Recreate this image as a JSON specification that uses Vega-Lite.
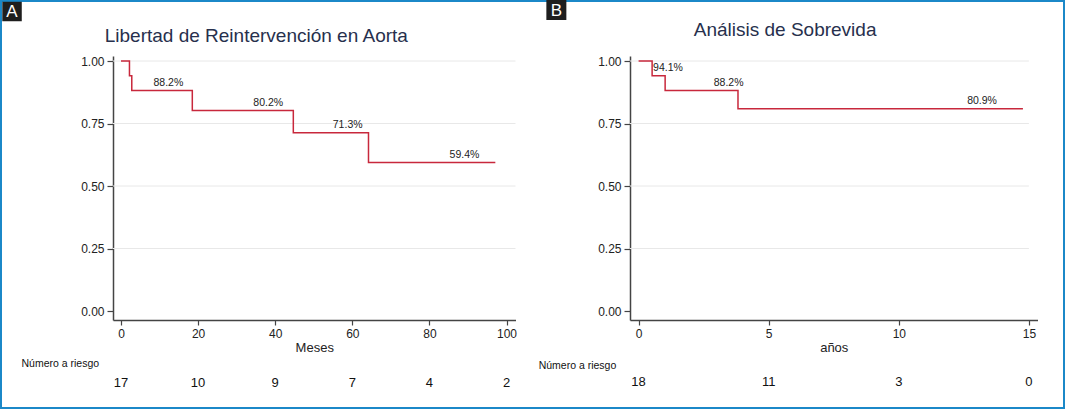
{
  "$schema": "https://vega.github.io/schema/vega-lite/v6.json",
  "width": 1065,
  "height": 409,
  "autosize": {"type": "none"},
  "padding": 0,
  "background": "white",
  "config": {
    "view": {"stroke": "#1b88c8", "strokeWidth": 4},
    "font": "Liberation Sans",
    "text": {"font": "Liberation Sans"}
  },
  "datasets": {
    "kmA": [
      {"t": 0, "s": 1.0},
      {"t": 2.2, "s": 0.941},
      {"t": 2.8, "s": 0.882},
      {"t": 18.5, "s": 0.802},
      {"t": 44.7, "s": 0.713},
      {"t": 64.2, "s": 0.594},
      {"t": 97.1, "s": 0.594}
    ],
    "kmB": [
      {"t": 0, "s": 1.0},
      {"t": 0.52, "s": 0.941},
      {"t": 1.02, "s": 0.882},
      {"t": 3.82, "s": 0.809},
      {"t": 14.77, "s": 0.809}
    ],
    "labA": [
      {"t": 12.3, "s": 0.882, "label": "88.2%"},
      {"t": 38.2, "s": 0.802, "label": "80.2%"},
      {"t": 58.8, "s": 0.713, "label": "71.3%"},
      {"t": 89.1, "s": 0.594, "label": "59.4%"}
    ],
    "labB": [
      {"t": 1.13, "s": 0.941, "label": "94.1%"},
      {"t": 3.46, "s": 0.882, "label": "88.2%"},
      {"t": 13.2, "s": 0.809, "label": "80.9%"}
    ],
    "riskA": [
      {"t": 0, "n": "17"},
      {"t": 20, "n": "10"},
      {"t": 40, "n": "9"},
      {"t": 60, "n": "7"},
      {"t": 80, "n": "4"},
      {"t": 100, "n": "2"}
    ],
    "riskB": [
      {"t": 0, "n": "18"},
      {"t": 5, "n": "11"},
      {"t": 10, "n": "3"},
      {"t": 15, "n": "0"}
    ],
    "grid": [
      {"g": 0.25},
      {"g": 0.5},
      {"g": 0.75},
      {"g": 1.0}
    ],
    "notes": [
      {"txt": "x"}
    ]
  },
  "layer": [
    {
      "layer": [
        {
          "data": {"name": "grid"},
          "mark": {"type": "rule", "color": "#e8e8e8", "strokeWidth": 1},
          "encoding": {
            "y": {
              "field": "g", "type": "quantitative",
              "scale": {"domain": [-0.036, 1.02], "range": [320, 56], "nice": false, "zero": false},
              "axis": {
                "orient": "left", "offset": -113, "title": null,
                "values": [0, 0.25, 0.5, 0.75, 1], "format": ".2f",
                "grid": false, "domainColor": "#444444", "domainWidth": 1.5,
                "tickColor": "#444444", "tickWidth": 1.2, "tickSize": 6,
                "labelFontSize": 12, "labelColor": "#222222", "labelPadding": 3,
                "labelFont": "Liberation Sans"
              }
            },
            "x": {
              "datum": -2.07, "type": "quantitative",
              "scale": {"domain": [-2.07, 102.33], "range": [113, 515.5], "nice": false, "zero": false},
              "axis": {
                "orient": "bottom", "offset": -89, "title": "Meses",
                "values": [0, 20, 40, 60, 80, 100], "format": "d",
                "grid": false, "domainColor": "#444444", "domainWidth": 1.5,
                "tickColor": "#444444", "tickWidth": 1.2, "tickSize": 5,
                "labelFontSize": 12, "labelColor": "#222222", "labelPadding": 3,
                "labelFont": "Liberation Sans",
                "titleFont": "Liberation Sans", "titleFontSize": 13, "titleFontWeight": "normal",
                "titleColor": "#222222", "titlePadding": 2
              }
            },
            "x2": {"datum": 102.33}
          }
        },
        {
          "data": {"name": "kmA"},
          "mark": {"type": "line", "interpolate": "step-after", "color": "#c8283c", "strokeWidth": 1.5},
          "encoding": {
            "x": {"field": "t", "type": "quantitative", "title": "Meses"},
            "y": {"field": "s", "type": "quantitative", "title": null}
          }
        },
        {
          "data": {"name": "labA"},
          "mark": {"type": "text", "fontSize": 10.5, "color": "#222222", "dy": -8, "baseline": "middle"},
          "encoding": {
            "x": {"field": "t", "type": "quantitative", "title": "Meses"},
            "y": {"field": "s", "type": "quantitative", "title": null},
            "text": {"field": "label"}
          }
        },
        {
          "data": {"name": "riskA"},
          "mark": {"type": "text", "fontSize": 13, "color": "#111111", "baseline": "middle"},
          "encoding": {
            "x": {"field": "t", "type": "quantitative", "title": "Meses"},
            "y": {"datum": -0.287, "type": "quantitative", "title": null},
            "text": {"field": "n"}
          }
        },
        {
          "data": {"name": "notes"},
          "mark": {"type": "text", "fontSize": 10.5, "color": "#111111", "align": "left", "baseline": "middle"},
          "encoding": {
            "x": {"datum": -25.8, "type": "quantitative", "title": "Meses"},
            "y": {"datum": -0.212, "type": "quantitative", "title": null},
            "text": {"value": "Número a riesgo"}
          }
        },
        {
          "data": {"name": "notes"},
          "mark": {"type": "text", "fontSize": 19, "color": "#27304d", "baseline": "middle"},
          "encoding": {
            "x": {"datum": 35.1, "type": "quantitative", "title": "Meses"},
            "y": {"datum": 1.1, "type": "quantitative", "title": null},
            "text": {"value": "Libertad de Reintervención en Aorta"}
          }
        },
        {
          "data": {"name": "notes"},
          "mark": {"type": "point", "shape": "square", "filled": true, "opacity": 1, "color": "#1e1e1e", "size": 380},
          "encoding": {
            "x": {"datum": -28.26, "type": "quantitative", "title": "Meses"},
            "y": {"datum": 1.198, "type": "quantitative", "title": null}
          }
        },
        {
          "data": {"name": "notes"},
          "mark": {"type": "text", "fontSize": 17, "color": "white", "baseline": "middle"},
          "encoding": {
            "x": {"datum": -28.26, "type": "quantitative", "title": "Meses"},
            "y": {"datum": 1.196, "type": "quantitative", "title": null},
            "text": {"value": "A"}
          }
        }
      ]
    },
    {
      "layer": [
        {
          "data": {"name": "grid"},
          "mark": {"type": "rule", "color": "#e8e8e8", "strokeWidth": 1},
          "encoding": {
            "y": {
              "field": "g", "type": "quantitative",
              "scale": {"domain": [-0.036, 1.02], "range": [320, 56], "nice": false, "zero": false},
              "axis": {
                "orient": "left", "offset": -630, "title": null,
                "values": [0, 0.25, 0.5, 0.75, 1], "format": ".2f",
                "grid": false, "domainColor": "#444444", "domainWidth": 1.5,
                "tickColor": "#444444", "tickWidth": 1.2, "tickSize": 6,
                "labelFontSize": 12, "labelColor": "#222222", "labelPadding": 3,
                "labelFont": "Liberation Sans"
              }
            },
            "x": {
              "datum": -0.33, "type": "quantitative",
              "scale": {"domain": [-0.33, 15.33], "range": [630, 1037.5], "nice": false, "zero": false},
              "axis": {
                "orient": "bottom", "offset": -89, "title": "años",
                "values": [0, 5, 10, 15], "format": "d",
                "grid": false, "domainColor": "#444444", "domainWidth": 1.5,
                "tickColor": "#444444", "tickWidth": 1.2, "tickSize": 5,
                "labelFontSize": 12, "labelColor": "#222222", "labelPadding": 3,
                "labelFont": "Liberation Sans",
                "titleFont": "Liberation Sans", "titleFontSize": 13, "titleFontWeight": "normal",
                "titleColor": "#222222", "titlePadding": 2
              }
            },
            "x2": {"datum": 15}
          }
        },
        {
          "data": {"name": "kmB"},
          "mark": {"type": "line", "interpolate": "step-after", "color": "#c8283c", "strokeWidth": 1.5},
          "encoding": {
            "x": {"field": "t", "type": "quantitative", "title": "años"},
            "y": {"field": "s", "type": "quantitative", "title": null}
          }
        },
        {
          "data": {"name": "labB"},
          "mark": {"type": "text", "fontSize": 10.5, "color": "#222222", "dy": -8, "baseline": "middle"},
          "encoding": {
            "x": {"field": "t", "type": "quantitative", "title": "años"},
            "y": {"field": "s", "type": "quantitative", "title": null},
            "text": {"field": "label"}
          }
        },
        {
          "data": {"name": "riskB"},
          "mark": {"type": "text", "fontSize": 13, "color": "#111111", "baseline": "middle"},
          "encoding": {
            "x": {"field": "t", "type": "quantitative", "title": "años"},
            "y": {"datum": -0.284, "type": "quantitative", "title": null},
            "text": {"field": "n"}
          }
        },
        {
          "data": {"name": "notes"},
          "mark": {"type": "text", "fontSize": 10.5, "color": "#111111", "align": "left", "baseline": "middle"},
          "encoding": {
            "x": {"datum": -3.84, "type": "quantitative", "title": "años"},
            "y": {"datum": -0.22, "type": "quantitative", "title": null},
            "text": {"value": "Número a riesgo"}
          }
        },
        {
          "data": {"name": "notes"},
          "mark": {"type": "text", "fontSize": 19, "color": "#27304d", "baseline": "middle"},
          "encoding": {
            "x": {"datum": 5.63, "type": "quantitative", "title": "años"},
            "y": {"datum": 1.124, "type": "quantitative", "title": null},
            "text": {"value": "Análisis de Sobrevida"}
          }
        },
        {
          "data": {"name": "notes"},
          "mark": {"type": "point", "shape": "square", "filled": true, "opacity": 1, "color": "#1e1e1e", "size": 400},
          "encoding": {
            "x": {"datum": -3.16, "type": "quantitative", "title": "años"},
            "y": {"datum": 1.204, "type": "quantitative", "title": null}
          }
        },
        {
          "data": {"name": "notes"},
          "mark": {"type": "text", "fontSize": 17, "color": "white", "baseline": "middle"},
          "encoding": {
            "x": {"datum": -3.16, "type": "quantitative", "title": "años"},
            "y": {"datum": 1.202, "type": "quantitative", "title": null},
            "text": {"value": "B"}
          }
        }
      ]
    }
  ],
  "resolve": {
    "scale": {"x": "independent", "y": "independent"},
    "axis": {"x": "independent", "y": "independent"}
  }
}
